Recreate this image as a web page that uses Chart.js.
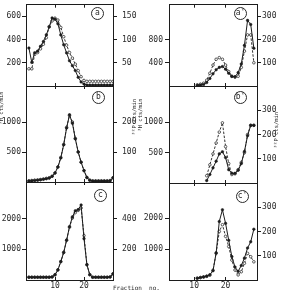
<!DOCTYPE html>
<html>
<head>
<meta charset="utf-8">
<script src="https://cdn.jsdelivr.net/npm/chart.js@4.4.1/dist/chart.umd.min.js"></script>
<style>
  body { margin: 0; background: #fff; }
  #wrap { position: relative; width: 281px; height: 291px; overflow: hidden; font-family: "DejaVu Sans Mono", monospace; color: #2a2a2a; }
  #wrap canvas { position: absolute; top: 0; }
  .tag { position: absolute; width: 11px; height: 11px; margin: -6px 0 0 -6px; border: 1px solid #2a2a2a; border-radius: 50%; font-size: 8px; line-height: 10px; text-align: center; }
  .vt { position: absolute; white-space: nowrap; font-size: 5.5px; transform: translate(-50%, -50%) rotate(-90deg); }
  .xt { position: absolute; white-space: pre; font-size: 6px; }
</style>
</head>
<body>
<div id="wrap">
  <canvas id="pa" width="141" height="291" style="left:0"></canvas>
  <canvas id="pb" width="141" height="291" style="left:0"></canvas>
  <canvas id="pc" width="141" height="291" style="left:0"></canvas>
  <canvas id="pa2" width="140" height="291" style="left:141px"></canvas>
  <canvas id="pb2" width="140" height="291" style="left:141px"></canvas>
  <canvas id="pc2" width="140" height="291" style="left:141px"></canvas>

  <div class="tag" style="left:97px;top:13px">a</div>
  <div class="tag" style="left:98px;top:97px">b</div>
  <div class="tag" style="left:100px;top:195px">c</div>
  <div class="tag" style="left:240px;top:13px">a'</div>
  <div class="tag" style="left:240px;top:97px">b'</div>
  <div class="tag" style="left:242px;top:196px">c'</div>

  <div class="vt" style="left:1px;top:108px">³H cts/min</div>
  <div class="vt" style="left:134px;top:117px">³²P cts/min</div>
  <div class="vt" style="left:140px;top:115px">³H cts/min</div>
  <div class="vt" style="left:276px;top:130px">³²P cts/min</div>
  <div class="xt" style="left:113px;top:284px">Fraction  no.</div>
</div>

<script>
const ink = "#1c1c1c";
const tickFont = { family: '"DejaVu Sans Mono", monospace', size: 8 };

// fraction numbers
const fracLeft = [1, 2, 3, 4, 5, 6, 7, 8, 9, 10, 11, 12, 13, 14, 15, 16, 17, 18, 19, 20, 21, 22, 23, 24, 25, 26, 27, 28, 29, 30];
const fracA2 = [11, 12, 13, 14, 15, 16, 17, 18, 19, 20, 21, 22, 23, 24, 25, 26, 27, 28, 29];
const fracB2 = [14, 15, 16, 17, 18, 19, 20, 21, 22, 23, 24, 25, 26, 27, 28, 29];
const fracC2 = [11, 12, 13, 14, 15, 16, 17, 18, 19, 20, 21, 22, 23, 24, 25, 26, 27, 28, 29];

// 3H (filled, left axis) and 32P (open, right axis)
const aH = [327, 203, 286, 300, 342, 383, 440, 508, 586, 575, 536, 440, 355, 285, 217, 175, 133, 75, 35, 17, 8, 8, 8, 8, 8, 8, 8, 8, 8, 8];
const aP = [37, 37, 68, 72, 80, 90, 104, 128, 140, 146, 142, 126, 106, 88, 72, 60, 47, 33, 20, 12, 10, 10, 10, 10, 10, 10, 10, 10, 10, 10];
const bH = [15, 20, 25, 30, 38, 45, 55, 65, 95, 150, 250, 400, 620, 900, 1120, 980, 720, 500, 330, 190, 75, 30, 15, 15, 15, 15, 15, 15, 20, 70];
const bP = [4, 5, 6, 7, 8, 10, 12, 14, 19, 30, 50, 82, 125, 182, 222, 200, 145, 100, 66, 38, 15, 6, 4, 4, 4, 4, 4, 4, 5, 14];
const cH = [90, 90, 90, 90, 90, 90, 90, 90, 100, 170, 330, 600, 900, 1300, 1740, 2060, 2260, 2300, 2450, 1350, 500, 170, 90, 90, 90, 90, 90, 90, 100, 200];
const cP = [18, 18, 18, 18, 18, 18, 18, 18, 20, 34, 66, 120, 180, 260, 345, 405, 440, 455, 470, 290, 100, 35, 18, 18, 18, 18, 18, 18, 20, 40];

const a2H = [10, 15, 25, 60, 130, 210, 280, 320, 335, 290, 220, 165, 160, 230, 380, 700, 1130, 1060, 650];
const a2P = [5, 8, 12, 25, 55, 90, 115, 122, 115, 90, 62, 42, 38, 42, 80, 150, 220, 220, 100];
const b2H = [40, 140, 250, 360, 480, 515, 420, 220, 160, 160, 210, 320, 520, 780, 950, 950];
const b2P = [30, 75, 120, 165, 210, 248, 150, 80, 35, 38, 55, 85, 125, 200, 238, 238];
const c2H = [55, 80, 100, 125, 170, 300, 880, 1900, 2280, 1840, 1290, 760, 420, 280, 470, 710, 1040, 1240, 1650];
const c2P = [8, 10, 12, 15, 20, 40, 110, 200, 228, 180, 138, 82, 41, 21, 34, 69, 110, 96, 75];

// tick labels
const xTicks = [10, 20];
const aLeftTicks = [200, 400, 600];
const aRightTicks = [50, 100, 150];
const bLeftTicks = [500, 1000];
const bRightTicks = [100, 200];
const cLeftTicks = [1000, 2000];
const cRightTicks = [200, 400];
const a2LeftTicks = [400, 800];
const a2RightTicks = [100, 200, 300];
const b2LeftTicks = [500, 1000];
const b2RightTicks = [100, 200, 300];
const c2LeftTicks = [1000, 2000];
const c2RightTicks = [100, 200, 300];

const toPoints = (fr, vals) => fr.map((f, i) => ({ x: f, y: vals[i] }));
const fixTicks = (list) => (s) => { s.ticks = list.map(v => ({ value: v })); };
const plain = (v) => String(v);

const makePanel = (p) => {
  const canvas = document.getElementById(p.id);
  const H = canvas.height;
  const xh = p.showX ? 11 : 0;

  new Chart(canvas, {
    type: "line",
    data: {
      datasets: [
        {
          data: toPoints(p.fr, p.h),
          yAxisID: "y",
          borderColor: ink,
          borderWidth: 1,
          pointRadius: 1.3,
          pointBackgroundColor: ink,
          pointBorderColor: ink,
          pointBorderWidth: 0.5,
          tension: 0,
        },
        {
          data: toPoints(p.fr, p.p),
          yAxisID: "y2",
          borderColor: ink,
          borderWidth: 0.9,
          borderDash: [2.5, 1.5],
          pointRadius: 1.3,
          pointBackgroundColor: "#fff",
          pointBorderColor: ink,
          pointBorderWidth: 0.7,
          tension: 0,
        },
      ],
    },
    options: {
      responsive: false,
      animation: false,
      events: [],
      layout: { padding: { top: p.top, bottom: H - p.bottom - xh, left: 0, right: 0 } },
      plugins: { legend: { display: false }, tooltip: { enabled: false } },
      scales: {
        x: {
          type: "linear",
          position: "bottom",
          min: p.xMin,
          max: 30,
          afterBuildTicks: fixTicks(xTicks),
          afterFit: (s) => { s.height = xh; s.paddingLeft = 0; s.paddingRight = 0; },
          ticks: { display: !!p.showX, font: tickFont, color: "#2a2a2a", padding: 4, maxRotation: 0, callback: plain },
          grid: { drawOnChartArea: false, tickLength: -3, color: ink },
          border: { color: ink, width: 1 },
        },
        xt: {
          type: "linear",
          position: "top",
          min: p.xMin,
          max: 30,
          afterBuildTicks: fixTicks(xTicks),
          afterFit: (s) => { s.height = 0; s.paddingLeft = 0; s.paddingRight = 0; },
          ticks: { display: false },
          grid: { drawOnChartArea: false, tickLength: -3, color: ink },
          border: { color: ink, width: 1 },
        },
        y: {
          position: "left",
          min: 0,
          max: p.lMax,
          afterBuildTicks: fixTicks(p.lTicks),
          afterFit: (s) => { s.width = p.lw; s.paddingTop = 0; s.paddingBottom = 0; },
          ticks: { font: tickFont, color: "#2a2a2a", padding: p.lPad, autoSkip: false, callback: plain },
          grid: { drawOnChartArea: false, tickLength: 4, color: ink },
          border: { color: ink, width: 1 },
        },
        y2: {
          position: "right",
          min: 0,
          max: p.rMax,
          afterBuildTicks: fixTicks(p.rTicks),
          afterFit: (s) => { s.width = p.rw; s.paddingTop = 0; s.paddingBottom = 0; },
          ticks: { font: tickFont, color: "#2a2a2a", padding: p.rPad, autoSkip: false, callback: plain },
          grid: { drawOnChartArea: false, tickLength: 4, color: ink },
          border: { color: ink, width: 1 },
        },
      },
    },
  });
};

const leftCol = { xMin: 0, lw: 26, rw: 28, lPad: 1, rPad: 5 };
const rightCol = { xMin: 2, lw: 28, rw: 24, lPad: 2, rPad: 1 };

makePanel({ ...leftCol, id: "pa", fr: fracLeft, h: aH, p: aP, lMax: 700, rMax: 175, lTicks: aLeftTicks, rTicks: aRightTicks, top: 2, bottom: 86 });
makePanel({ ...leftCol, id: "pb", fr: fracLeft, h: bH, p: bP, lMax: 1600, rMax: 320, lTicks: bLeftTicks, rTicks: bRightTicks, top: 86, bottom: 182 });
makePanel({ ...leftCol, id: "pc", fr: fracLeft, h: cH, p: cP, lMax: 3200, rMax: 640, lTicks: cLeftTicks, rTicks: cRightTicks, top: 182, bottom: 280, showX: true });

makePanel({ ...rightCol, id: "pa2", fr: fracA2, h: a2H, p: a2P, lMax: 1400, rMax: 350, lTicks: a2LeftTicks, rTicks: a2RightTicks, top: 2, bottom: 86 });
makePanel({ ...rightCol, id: "pb2", fr: fracB2, h: b2H, p: b2P, lMax: 1600, rMax: 400, lTicks: b2LeftTicks, rTicks: b2RightTicks, top: 86, bottom: 183 });
makePanel({ ...rightCol, id: "pc2", fr: fracC2, h: c2H, p: c2P, lMax: 3150, rMax: 400, lTicks: c2LeftTicks, rTicks: c2RightTicks, top: 183, bottom: 280, showX: true });
</script>
</body>
</html>
